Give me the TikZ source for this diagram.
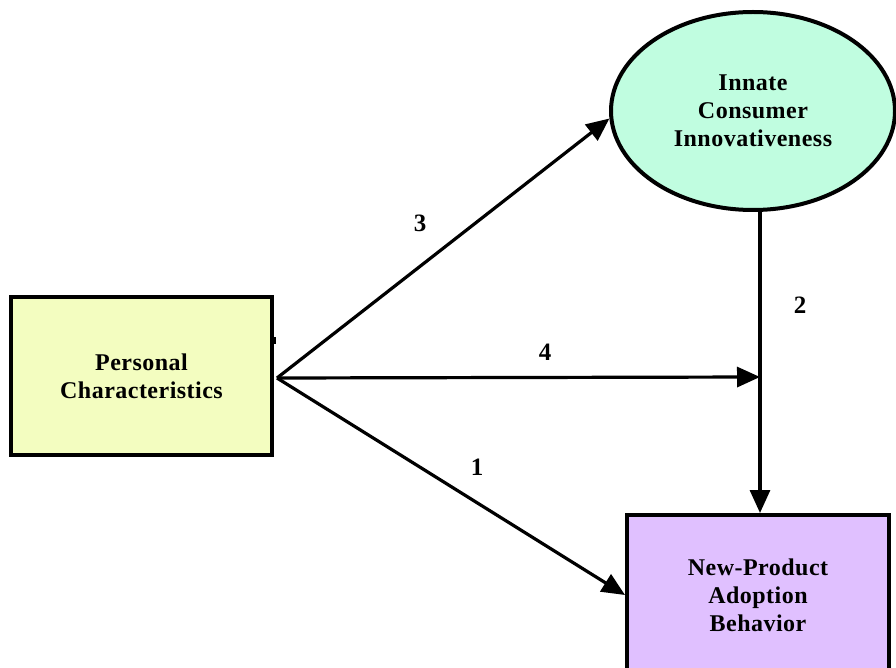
\documentclass[tikz,border=0pt]{standalone}
\usepackage{fontspec}
\setmainfont{Liberation Serif}
\usetikzlibrary{arrows.meta,shapes.geometric}
\definecolor{pcfill}{HTML}{F3FDC0}
\definecolor{icfill}{HTML}{C0FDE0}
\definecolor{nbfill}{HTML}{E0C0FF}
\tikzset{
  lbl/.style={font=\fontsize{24}{28}\selectfont\bfseries\addfontfeature{LetterSpace=2}, align=center},
  boxnode/.style={draw=black, line width=4pt, rectangle, inner sep=0pt, lbl},
  conn/.style={line width=3.2pt, -{Triangle[length=23pt,width=20pt]}},
  num/.style={font=\fontsize{25}{26}\selectfont\bfseries, inner sep=0pt},
}
\begin{document}
\begin{tikzpicture}[x=1pt,y=-1pt]
\clip (0,0) rectangle (896,668);
\node[boxnode, fill=pcfill, minimum width=261pt, minimum height=158pt] (pc) at (141.5,376) {Personal\\Characteristics};
\node[boxnode, ellipse, fill=icfill, minimum width=284pt, minimum height=198pt] (ic) at (753,111) {Innate\\Consumer\\Innovativeness};
\node[boxnode, fill=nbfill, minimum width=262pt, minimum height=160pt] (nb) at (758,595) {New-Product\\Adoption\\Behavior};
\coordinate (o) at (277,378);
\coordinate (j) at (760,377);
\draw[line width=3.5pt] (274,337) -- (274,344);
\draw[conn] (o) -- (ic.183);
\draw[conn] (o) -- (j);
\draw[conn] (o) -- (nb.west);
\draw[conn] (j |- ic.south) -- (j |- nb.north);
\node[num] (n3) at (420,223) {3};
\node[num] (n4) at (545,352) {4};
\node[num] (n2) at (800,305) {2};
\node[num] (n1) at (477,467) {1};
\end{tikzpicture}
\end{document}
